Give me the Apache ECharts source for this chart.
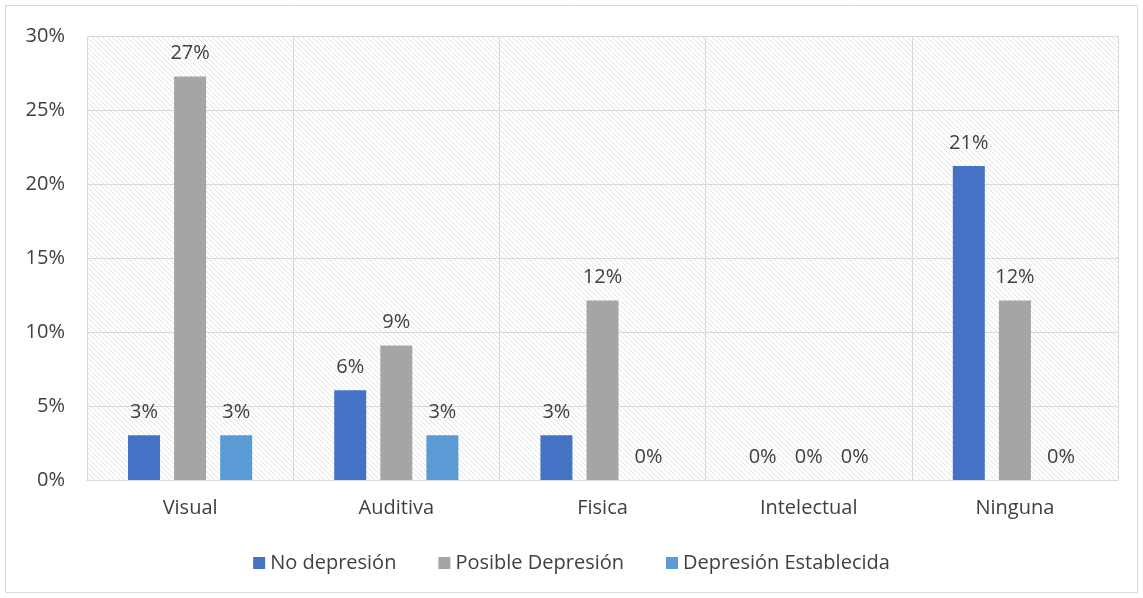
<!DOCTYPE html>
<html>
<head>
<meta charset="utf-8">
<script src="https://cdn.jsdelivr.net/npm/echarts@6/dist/echarts.min.js"></script>
<style>
  html, body { margin: 0; padding: 0; background: #fff; }
  #chart { width: 1143px; height: 598px; }
</style>
</head>
<body>
<div id="chart"></div>
<script>
// values (n = 33, so 1 person ~ 3.03%)
var categories = ['Visual', 'Auditiva', 'Fisica', 'Intelectual', 'Ninguna'];
var noDepresion = [3.03, 6.06, 3.03, 0, 21.21];
var posibleDepresion = [27.27, 9.09, 12.12, 0, 12.12];
var depresionEstablecida = [3.03, 3.03, 0, 0, 0];

var font = 'Open Sans';
var textColor = '#404040';

// diagonal hatch for the plot area
function hatch() {
    var n = 5;
    var c = document.createElement('canvas');
    c.width = n; c.height = n;
    var ctx = c.getContext('2d');
    ctx.fillStyle = '#fff';
    ctx.fillRect(0, 0, n, n);
    ctx.strokeStyle = '#e2e2e2';
    ctx.lineWidth = 1;
    ctx.beginPath();
    ctx.moveTo(-1, -1); ctx.lineTo(n + 1, n + 1);
    ctx.moveTo(-n - 1, -1); ctx.lineTo(1, n + 1);
    ctx.moveTo(n - 1, -1); ctx.lineTo(2 * n + 1, n + 1);
    ctx.stroke();
    return c;
}

function series(name, data, color) {
    return {
        name: name,
        type: 'bar',
        data: data,
        barWidth: 32,
        barGap: '44%',
        itemStyle: { color: color },
        label: {
            show: true,
            position: 'top',
            distance: 13,
            color: textColor,
            fontFamily: font,
            fontSize: 20,
            formatter: function (p) { return Math.round(p.value) + '%'; }
        }
    };
}

var chart = echarts.init(document.getElementById('chart'), null, { renderer: 'canvas' });
chart.setOption({
    animation: false,
    backgroundColor: '#fff',
    textStyle: { fontFamily: font },
    graphic: [{
        type: 'rect',
        shape: { x: 5.5, y: 5.5, width: 1132, height: 587 },
        style: { fill: 'none', stroke: '#d9d9d9', lineWidth: 1 },
        silent: true
    }],
    grid: {
        left: 87, right: 25, top: 36, bottom: 118,
        show: true,
        borderWidth: 0,
        backgroundColor: { image: hatch(), repeat: 'repeat' }
    },
    legend: {
        bottom: 20,
        left: 'center',
        itemWidth: 12,
        itemHeight: 12,
        itemGap: 42,
        itemTextGap: 5,
        icon: 'rect',
        textStyle: { color: textColor, fontSize: 20, fontFamily: font },
        data: ['No depresión', 'Posible Depresión', 'Depresión Establecida']
    },
    xAxis: {
        type: 'category',
        data: categories,
        axisLine: { lineStyle: { color: '#d9d9d9', width: 1 } },
        axisTick: { show: false },
        splitLine: { show: true, lineStyle: { color: '#d9d9d9', width: 1 } },
        axisLabel: { color: textColor, fontSize: 20, fontFamily: font, margin: 18 }
    },
    yAxis: {
        type: 'value',
        min: 0, max: 30, interval: 5,
        axisLine: { show: false },
        axisTick: { show: false },
        splitLine: { lineStyle: { color: '#d9d9d9', width: 1 } },
        axisLabel: { color: textColor, fontSize: 20, fontFamily: font, margin: 22, formatter: '{value}%' }
    },
    series: [
        series('No depresión', noDepresion, '#4472C4'),
        series('Posible Depresión', posibleDepresion, '#A5A5A5'),
        series('Depresión Establecida', depresionEstablecida, '#5B9BD5')
    ]
});
</script>
</body>
</html>
